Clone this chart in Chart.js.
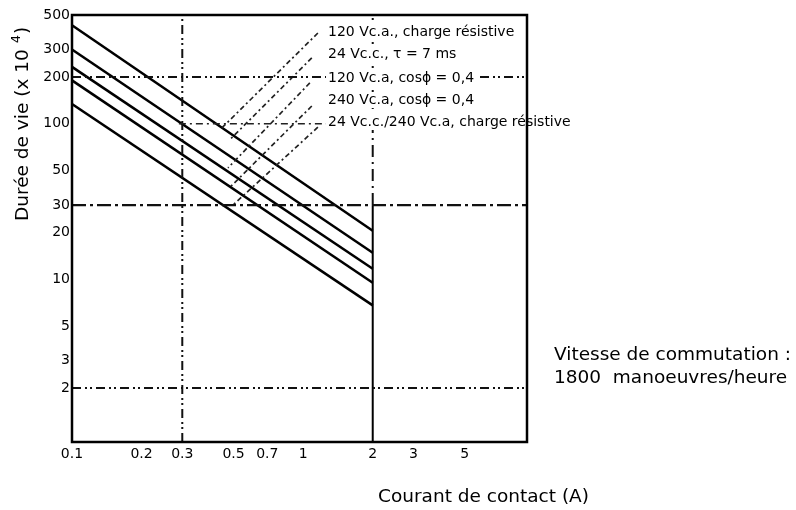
<!DOCTYPE html>
<html>
<head>
<meta charset="utf-8">
<script src="https://cdn.jsdelivr.net/npm/chart.js@4.4.1/dist/chart.umd.min.js"></script>
<style>
  html, body { margin: 0; padding: 0; background: #fff; }
  #wrap { width: 796px; height: 510px; }
</style>
</head>
<body>
<div id="wrap"><canvas id="myChart" width="796" height="510"></canvas></div>
<script>
// courant de contact (A) aux extremites des droites
const courant = [0.1, 2];
// duree de vie (x 10^4) pour chaque charge
const vie120R = [430, 20.5];
const vie24cc = [300, 14.8];
const vie120cos = [232, 11.7];
const vie240cos = [190, 9.5];
const vie24R = [134, 6.8];
const series = [vie120R, vie24cc, vie120cos, vie240cos, vie24R];
const etiquettes = [
    '120 Vc.a., charge résistive',
    '24 Vc.c., \u03C4 = 7 ms',
    '120 Vc.a, cos\u03D5 = 0,4',
    '240 Vc.a, cos\u03D5 = 0,4',
    '24 Vc.c./240 Vc.a, charge résistive'
];

const xTicks = [0.1, 0.2, 0.3, 0.5, 0.7, 1, 2, 3, 5];
const yTicks = [2, 3, 5, 10, 20, 30, 50, 100, 200, 300, 500];
const xMin = 0.1, xMax = 9.3;
const yMin = 0.9, yMax = 500;

// lignes de repere
const lignesH = [200, 30, 2];
const ligne100 = [0.29, 8.1];
const ligneV = 0.3;
const limiteI = 2;
const limiteVie = 30;

// traits de rappel vers les etiquettes [x1, y1, x2, y2]
const rappels = [
    [1.158, 383, 0.445, 94],
    [1.09, 265, 0.482, 79],
    [1.069, 183, 0.473, 52],
    [1.09, 130, 0.482, 39],
    [1.158, 95, 0.492, 29.6]
];

function seg(x1, y1, x2, y2) {
    return [{x: x1, y: y1}, {x: x2, y: y2}];
}

let datasets = [];

lignesH.forEach(function (v) {
    datasets.push({
        data: seg(xMin, v, xMax, v),
        borderColor: '#111',
        borderWidth: v === 30 ? 2.4 : 2,
        borderDash: v === 30 ? [14, 4, 3, 4] : [9, 4, 2, 3, 2, 4]
    });
});
datasets.push({
    data: seg(ligne100[0], 100, ligne100[1], 100),
    borderColor: '#222',
    borderWidth: 1.6,
    borderDash: [7, 4, 2, 4]
});
datasets.push({
    data: seg(ligneV, yMin, ligneV, yMax),
    borderColor: '#111',
    borderWidth: 2,
    borderDash: [9, 4, 2, 3, 2, 4]
});
datasets.push({
    data: seg(limiteI, yMin, limiteI, limiteVie),
    borderColor: '#000',
    borderWidth: 2
});
datasets.push({
    data: seg(limiteI, limiteVie, limiteI, yMax),
    borderColor: '#111',
    borderWidth: 2,
    borderDash: [12, 5, 2, 5]
});
rappels.forEach(function (r) {
    datasets.push({
        data: seg(r[0], r[1], r[2], r[3]),
        borderColor: '#222',
        borderWidth: 1.7,
        borderDash: [5, 3, 2, 3]
    });
});
series.forEach(function (s, i) {
    datasets.push({
        label: etiquettes[i],
        data: courant.map((c, k) => ({x: c, y: s[k]})),
        borderColor: '#000',
        borderWidth: 2.5
    });
});

const textes = {
    id: 'textes',
    afterDatasetsDraw(chart) {
        const ctx = chart.ctx;
        const a = chart.chartArea;
        ctx.save();
        ctx.fillStyle = '#000';
        ctx.textBaseline = 'middle';

        // etiquettes des courbes
        ctx.font = '14px "DejaVu Sans"';
        const ly = [32, 54, 78, 100, 122];
        etiquettes.forEach(function (t, i) {
            const w = ctx.measureText(t).width;
            ctx.fillStyle = '#fff';
            ctx.fillRect(326, ly[i] - 8, w + 4, 16);
            ctx.fillStyle = '#000';
            ctx.fillText(t, 328, ly[i]);
        });

        // cadre
        ctx.strokeStyle = '#000';
        ctx.lineWidth = 2.5;
        ctx.strokeRect(a.left, a.top, a.right - a.left, a.bottom - a.top);

        // titres
        ctx.font = '18.5px "DejaVu Sans"';
        ctx.textAlign = 'left';
        ctx.fillText('Courant de contact (A)', 378, 497);
        ctx.fillText('Vitesse de commutation :', 554, 355);
        ctx.fillText('1800  manoeuvres/heure', 554, 378);

        ctx.translate(23, 124);
        ctx.rotate(-Math.PI / 2);
        const t1 = 'Durée de vie (x 10 ';
        const w1 = ctx.measureText(t1).width;
        const x0 = -97;
        ctx.fillText(t1, x0, 0);
        ctx.font = '13px "DejaVu Sans"';
        ctx.fillText('4', x0 + w1, -6);
        const w2 = ctx.measureText('4').width;
        ctx.font = '18.5px "DejaVu Sans"';
        ctx.fillText(')', x0 + w1 + w2 + 1, 0);
        ctx.restore();
    }
};

const ctx = document.getElementById('myChart').getContext('2d');
const myChart = new Chart(ctx, {
    type: 'line',
    data: {datasets: datasets},
    options: {
        responsive: false,
        animation: false,
        parsing: true,
        elements: {point: {radius: 0}, line: {tension: 0}},
        layout: {padding: {left: 0, top: 15, right: 269, bottom: 0}},
        plugins: {legend: {display: false}, tooltip: {enabled: false}},
        scales: {
            x: {
                type: 'logarithmic',
                min: xMin,
                max: xMax,
                grid: {display: false, drawTicks: false},
                border: {display: false},
                afterBuildTicks: (s) => { s.ticks = xTicks.map(v => ({value: v})); },
                afterFit: (s) => { s.height = 68; },
                ticks: {
                    autoSkip: false,
                    maxRotation: 0,
                    padding: 4,
                    color: '#000',
                    font: {family: 'DejaVu Sans', size: 14},
                    callback: (v) => String(v)
                }
            },
            y: {
                type: 'logarithmic',
                min: yMin,
                max: yMax,
                grid: {display: false, drawTicks: false},
                border: {display: false},
                afterBuildTicks: (s) => { s.ticks = yTicks.map(v => ({value: v})); },
                afterFit: (s) => { s.width = 72; },
                ticks: {
                    autoSkip: false,
                    padding: 2,
                    color: '#000',
                    font: {family: 'DejaVu Sans', size: 14},
                    callback: (v) => String(v)
                }
            }
        }
    },
    plugins: [textes]
});
</script>
</body>
</html>
